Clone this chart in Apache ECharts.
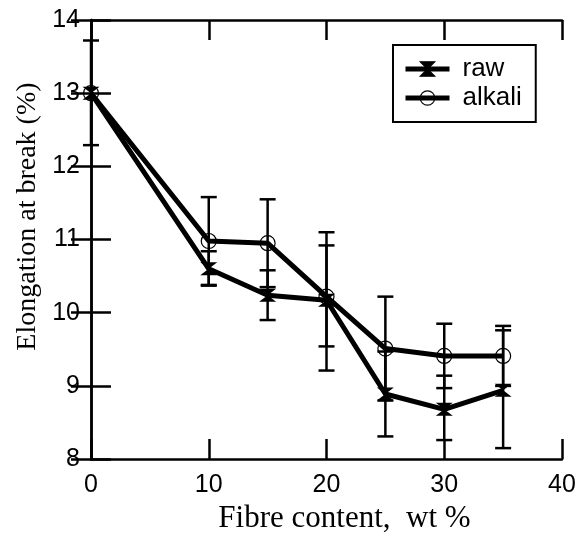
<!DOCTYPE html>
<html>
<head>
<meta charset="utf-8">
<script src="https://cdn.jsdelivr.net/npm/echarts@6/dist/echarts.min.js"></script>
<style>html,body{margin:0;padding:0;background:#fff}#c{width:580px;height:539px}</style>
</head>
<body>
<div id="c"></div>
<script>
var fibre = [0, 10, 15, 20, 25, 30, 35];
var rawVals = [13.0, 10.6, 10.24, 10.17, 8.89, 8.68, 8.94];
var rawLow = [12.29, 10.37, 9.90, 9.21, 8.31, 8.26, 8.15];
var rawHigh = [13.72, 10.84, 10.58, 10.92, 9.47, 9.14, 9.76];
var alkaliVals = [13.0, 10.98, 10.95, 10.22, 9.51, 9.41, 9.41];
var alkaliLow = [13.0, 10.38, 10.35, 9.54, 8.80, 8.97, 9.00];
var alkaliHigh = [13.0, 11.58, 11.55, 11.10, 10.22, 9.85, 9.82];
var xTicks = [0, 10, 20, 30, 40];
var yTicks = [8, 9, 10, 11, 12, 13, 14];

var hourglass = 'path://M0,0 L10,0 L5,5 L10,10 L0,10 L5,5 Z';

function pairs(xs, ys) { return xs.map(function (x, i) { return [x, ys[i]]; }); }
function triples(xs, lo, hi) { return xs.map(function (x, i) { return [x, lo[i], hi[i]]; }); }

function errRender(params, api) {
  var x = api.value(0), lo = api.value(1), hi = api.value(2);
  if (lo === hi) return null;
  var pLo = api.coord([x, lo]);
  var pHi = api.coord([x, hi]);
  var hw = 8;
  var st = { stroke: '#000', lineWidth: 2.5 };
  return {
    type: 'group',
    children: [
      { type: 'line', shape: { x1: pLo[0], y1: pLo[1], x2: pHi[0], y2: pHi[1] }, style: st },
      { type: 'line', shape: { x1: pLo[0] - hw, y1: pLo[1], x2: pLo[0] + hw, y2: pLo[1] }, style: st },
      { type: 'line', shape: { x1: pHi[0] - hw, y1: pHi[1], x2: pHi[0] + hw, y2: pHi[1] }, style: st }
    ]
  };
}

var axisLineStyle = { color: '#000', width: 2.5 };
var labelFont = { color: '#000', fontFamily: 'Liberation Sans', fontSize: 25 };

var chart = echarts.init(document.getElementById('c'), null, { renderer: 'canvas' });
chart.setOption({
  animation: false,
  backgroundColor: '#fff',
  grid: { left: 91, right: 18, top: 20, bottom: 77 },
  legend: {
    orient: 'vertical',
    left: 393, top: 45,
    padding: [10, 14, 10, 10],
    itemGap: 1,
    itemWidth: 44, itemHeight: 18,
    borderColor: '#000', borderWidth: 2,
    backgroundColor: '#fff',
    lineStyle: { width: 5, color: '#000' },
    itemStyle: { borderWidth: 1.2 },
    textStyle: { color: '#000', fontFamily: 'Liberation Sans', fontSize: 26, lineHeight: 28, padding: [0, 0, 0, 8] },
    data: ['raw', 'alkali']
  },
  xAxis: [{
    type: 'value', min: xTicks[0], max: xTicks[xTicks.length - 1], interval: 10,
    name: 'Fibre content,  wt %', nameLocation: 'middle', nameGap: 42,
    nameTextStyle: { color: '#000', fontFamily: 'Liberation Serif', fontSize: 31, padding: [0, 0, 0, 36] },
    axisLine: { lineStyle: axisLineStyle },
    axisTick: { inside: true, length: 20, lineStyle: { color: '#000', width: 2.5 } },
    axisLabel: Object.assign({ margin: 14 }, labelFont),
    splitLine: { show: false }
  }, {
    type: 'value', position: 'top', min: xTicks[0], max: xTicks[xTicks.length - 1], interval: 10,
    axisLine: { lineStyle: axisLineStyle },
    axisTick: { inside: true, length: 20, lineStyle: { color: '#000', width: 2.5 } },
    axisLabel: { show: false },
    splitLine: { show: false }
  }],
  yAxis: [{
    type: 'value', min: yTicks[0], max: yTicks[yTicks.length - 1], interval: 1,
    name: 'Elongation at break (%)', nameLocation: 'middle', nameGap: 48, nameRotate: 90,
    nameTextStyle: { color: '#000', fontFamily: 'Liberation Serif', fontSize: 28, padding: [0, 0, 0, 46] },
    axisLine: { lineStyle: axisLineStyle },
    axisTick: { inside: true, length: 20, lineStyle: { color: '#000', width: 2.5 } },
    axisLabel: Object.assign({ margin: 11 }, labelFont),
    splitLine: { show: false }
  }, {
    type: 'value', position: 'right', min: yTicks[0], max: yTicks[yTicks.length - 1], interval: 1,
    axisLine: { lineStyle: axisLineStyle },
    axisTick: { inside: true, length: 20, lineStyle: { color: '#000', width: 2.5 } },
    axisLabel: { show: false },
    splitLine: { show: false }
  }],
  series: [
    {
      name: 'raw', type: 'line', xAxisIndex: 0, yAxisIndex: 0,
      data: pairs(fibre, rawVals),
      symbol: hourglass, symbolSize: [17, 13], showAllSymbol: true,
      itemStyle: { color: '#000', borderColor: '#000', borderWidth: 0 },
      lineStyle: { color: '#000', width: 5 },
      z: 3
    },
    {
      name: 'alkali', type: 'line', xAxisIndex: 0, yAxisIndex: 0,
      data: pairs(fibre, alkaliVals),
      symbol: 'circle', symbolSize: 15, showAllSymbol: true,
      itemStyle: { color: 'rgba(0,0,0,0)', borderColor: '#000', borderWidth: 1.2 },
      lineStyle: { color: '#000', width: 5 },
      z: 3
    },
    {
      type: 'custom', xAxisIndex: 0, yAxisIndex: 0,
      data: triples(fibre, rawLow, rawHigh),
      renderItem: errRender, z: 2, silent: true
    },
    {
      type: 'custom', xAxisIndex: 0, yAxisIndex: 0,
      data: triples(fibre, alkaliLow, alkaliHigh),
      renderItem: errRender, z: 2, silent: true
    }
  ]
});
</script>
</body>
</html>
